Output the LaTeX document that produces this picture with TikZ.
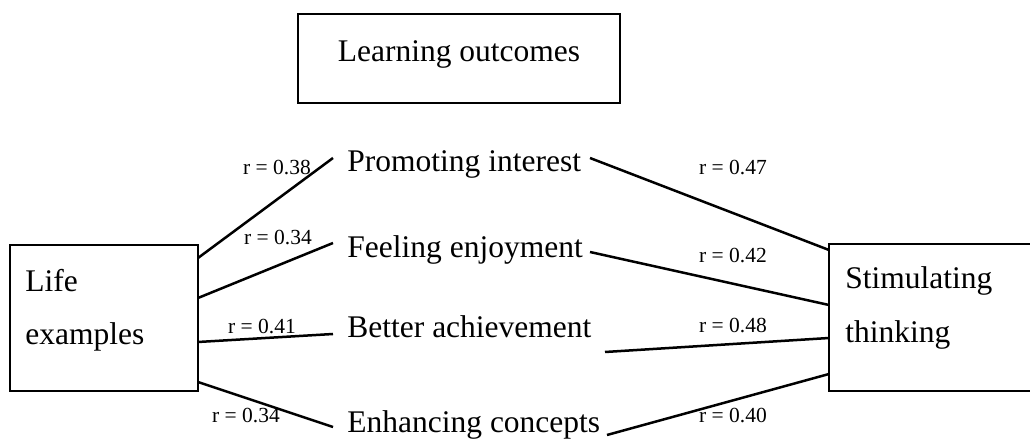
\documentclass[tikz,border=0pt]{standalone}
\usepackage{fontspec}
\setmainfont{Liberation Serif}
\begin{document}
\begin{tikzpicture}[x=0.5pt,y=-0.5pt,
  frame/.style={draw, line width=0.8pt, inner sep=0pt},
  big/.style={font=\fontsize{15.75}{19}\selectfont, inner sep=0pt},
  small/.style={font=\fontsize{10.75}{13}\selectfont, inner sep=0pt, anchor=base},
  link/.style={line width=1.25pt}]
\useasboundingbox (0,0) rectangle (1030,443);
% boxes
\node[frame, minimum width=161pt, minimum height=44.5pt, big, text height=8pt, text depth=5pt] (lo) at (459,58.5) {Learning outcomes};
\node[frame, minimum width=94pt, minimum height=73pt] (life) at (104,318) {};
\node[big, anchor=base west] (lifea) at (25,292) {Life};
\node[big, anchor=base west] (lifeb) at (25,345) {examples};
\node[frame, minimum width=105.5pt, minimum height=73.5pt] (stim) at (934.5,317.5) {};
\node[big, anchor=base west] (stima) at (845,289) {Stimulating};
\node[big, anchor=base west] (stimb) at (845,343) {thinking};
% middle items
\node[big, anchor=base west] (pi) at (347,172) {Promoting interest};
\node[big, anchor=base west] (fe) at (347,258) {Feeling enjoyment};
\node[big, anchor=base west] (ba) at (347,338) {Better achievement};
\node[big, anchor=base west] (ec) at (347,433) {Enhancing concepts};
% connector end points
\coordinate (l1) at (198,258); \coordinate (p1) at (333,158);
\coordinate (l2) at (198,298); \coordinate (p2) at (333,243);
\coordinate (l3) at (198,342); \coordinate (p3) at (333,334);
\coordinate (l4) at (198,382); \coordinate (p4) at (333,427);
\coordinate (q1) at (590,158); \coordinate (s1) at (829,250);
\coordinate (q2) at (590,252); \coordinate (s2) at (829,305);
\coordinate (q3) at (605,352); \coordinate (s3) at (829,338);
\coordinate (q4) at (607,435); \coordinate (s4) at (829,374);
\draw[link] (l1) -- (p1);
\draw[link] (l2) -- (p2);
\draw[link] (l3) -- (p3);
\draw[link] (l4) -- (p4);
\draw[link] (q1) -- (s1);
\draw[link] (q2) -- (s2);
\draw[link] (q3) -- (s3);
\draw[link] (q4) -- (s4);
% labels
\node[small] (r1) at (277,175) {r = 0.38};
\node[small] (r2) at (278,245) {r = 0.34};
\node[small] (r3) at (262,334) {r = 0.41};
\node[small] (r4) at (246,423) {r = 0.34};
\node[small] (r5) at (733,175) {r = 0.47};
\node[small] (r6) at (733,263) {r = 0.42};
\node[small] (r7) at (733,333) {r = 0.48};
\node[small] (r8) at (733,423) {r = 0.40};
\end{tikzpicture}
\end{document}
